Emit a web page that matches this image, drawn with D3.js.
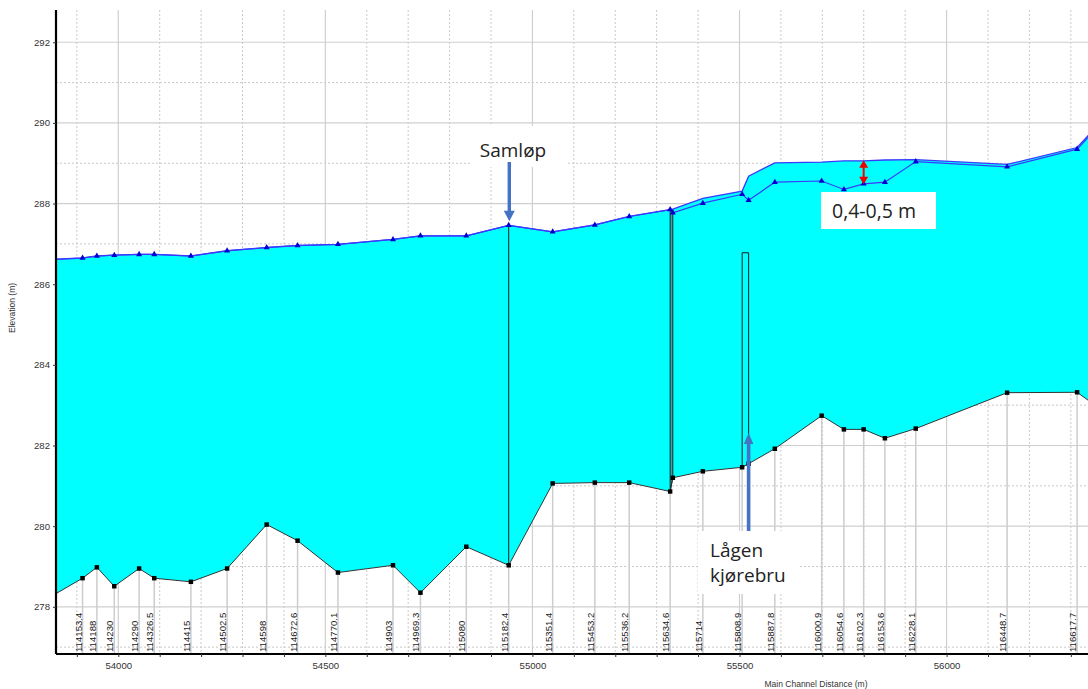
<!DOCTYPE html>
<html>
<head>
<meta charset="utf-8">
<script src="https://cdn.jsdelivr.net/npm/d3@7"></script>
<style>
  html, body { margin: 0; padding: 0; background: #ffffff; }
  svg { display: block; }
</style>
</head>
<body>
<svg id="chart" width="1088" height="689"></svg>
<script>
// River stations along the reach (blank = bridge face without its own label, or section outside the view)
const stations = ["", "114153.4", "114188", "114230", "114290", "114326.5", "114415", "114502.5",
  "114598", "114672.6", "114770.1", "114903", "114969.3", "115080", "115182.4", "115351.4",
  "115453.2", "115536.2", "115634.6", "", "115714", "115808.9", "", "115887.8", "116000.9",
  "116054.6", "116102.3", "116153.6", "116228.1", "116448.7", "116617.7", ""];

// Main channel distance (m) of each section
const distance = [53830, 53913.7, 53948.3, 53990.3, 54050.3, 54086.8, 54175.3, 54262.8,
  54358.3, 54432.9, 54530.4, 54663.3, 54729.6, 54840.3, 54942.7, 55048.9,
  55150.7, 55233.7, 55332.5, 55339, 55411.5, 55506.4, 55522, 55585.3, 55698.4,
  55752.1, 55799.8, 55851.1, 55925.6, 56146.2, 56315.2, 56372];

// Channel bed (thalweg) elevation (m)
const bedElevation = [278.21, 278.71, 278.98, 278.51, 278.95, 278.71, 278.62, 278.95,
  280.04, 279.64, 278.85, 279.03, 278.35, 279.49, 279.03, 281.06,
  281.08, 281.08, 280.86, 281.20, 281.36, 281.46, 281.55, 281.92, 282.74,
  282.40, 282.40, 282.18, 282.42, 283.31, 283.32, 282.90];

// Water surface, profile with markers (m)
const wsLower = [286.61, 286.65, 286.70, 286.72, 286.74, 286.74, 286.70, 286.83,
  286.91, 286.96, 286.99, 287.11, 287.20, 287.20, 287.46, 287.30,
  287.47, 287.68, 287.85, 287.77, 288.01, 288.23, 288.08, 288.53, 288.56,
  288.35, 288.49, 288.53, 289.04, 288.91, 289.35, 289.97];

// Water surface, higher profile (m)
const wsUpper = [286.61, 286.65, 286.70, 286.72, 286.74, 286.74, 286.70, 286.83,
  286.91, 286.96, 286.99, 287.11, 287.20, 287.20, 287.46, 287.30,
  287.47, 287.68, 287.85, 287.86, 288.13, 288.31, 288.68, 289.01, 289.03,
  289.06, 289.06, 289.08, 289.09, 288.97, 289.39, 290.02];

// Axis tick values
const xMajorTicks = [54000, 54500, 55000, 55500, 56000];
const yMajorTicks = [278, 280, 282, 284, 286, 288, 290, 292];

// Structures: junction (Samløp) and the two bridges
const junctionIndex = 14;
const bridgeA = { from: 18, to: 19 };               // narrow deck at 115634.6
const bridgeB = { from: 21, to: 22, top: 286.78 };  // Lågen kjørebru

const rows = distance.map((d, i) => ({
  station: stations[i], dist: d, bed: bedElevation[i], lo: wsLower[i], up: wsUpper[i]
}));

const svg = d3.select("#chart");
const pLeft = 56, pRight = 1088, pTop = 10, pBottom = 654;

const x = d3.scaleLinear().domain([53849.6, 56341.5]).range([pLeft, pRight]);
const y = d3.scaleLinear().domain([276.83, 292.8]).range([pBottom, pTop]);

svg.append("defs").append("clipPath").attr("id", "plotClip")
  .append("rect").attr("x", pLeft).attr("y", pTop)
  .attr("width", pRight - pLeft).attr("height", pBottom - pTop);

// ---- grid ----
const grid = svg.append("g");
const xMinor = d3.range(53900, 56400, 100).filter(v => v % 500 !== 0);
const yMinor = d3.range(277, 293, 1).filter(v => v % 2 !== 0);

grid.selectAll(".xminor").data(xMinor).join("line")
  .attr("x1", d => x(d)).attr("x2", d => x(d)).attr("y1", pTop).attr("y2", pBottom)
  .attr("stroke", "#c9c9c9").attr("stroke-width", 1).attr("stroke-dasharray", "2,2");
grid.selectAll(".yminor").data(yMinor).join("line")
  .attr("x1", pLeft).attr("x2", pRight).attr("y1", d => y(d)).attr("y2", d => y(d))
  .attr("stroke", "#c9c9c9").attr("stroke-width", 1).attr("stroke-dasharray", "2,2");
grid.selectAll(".xmajor").data(xMajorTicks).join("line")
  .attr("x1", d => x(d)).attr("x2", d => x(d)).attr("y1", pTop).attr("y2", pBottom)
  .attr("stroke", "#cfcfcf").attr("stroke-width", 1.2);
grid.selectAll(".ymajor").data(yMajorTicks).join("line")
  .attr("x1", pLeft).attr("x2", pRight).attr("y1", d => y(d)).attr("y2", d => y(d))
  .attr("stroke", "#cfcfcf").attr("stroke-width", 1.2);

const plot = svg.append("g").attr("clip-path", "url(#plotClip)");
const labelled = rows.filter(r => r.station !== "");

// cross-section lines from the bottom of the plot up to the bed
plot.selectAll(".xs").data(labelled).join("line")
  .attr("x1", d => x(d.dist)).attr("x2", d => x(d.dist))
  .attr("y1", pBottom).attr("y2", d => y(d.bed))
  .attr("stroke", "#cdcdcd").attr("stroke-width", 1.5);

// station labels
plot.selectAll(".xslabel").data(labelled).join("text")
  .attr("transform", d => `translate(${x(d.dist) - 1},${pBottom - 2}) rotate(-90)`)
  .attr("text-anchor", "start")
  .attr("font-family", "'Liberation Sans', Arial, sans-serif")
  .attr("font-size", 9.6).attr("fill", "#222")
  .text(d => d.station);

// water body between bed and the higher water surface
plot.append("path").datum(rows)
  .attr("d", d3.area().x(d => x(d.dist)).y0(d => y(d.bed)).y1(d => y(Math.max(d.up, d.lo))))
  .attr("fill", "#00ffff");

// junction line
const j = rows[junctionIndex];
plot.append("line")
  .attr("x1", x(j.dist)).attr("x2", x(j.dist))
  .attr("y1", y(j.bed)).attr("y2", y(j.lo))
  .attr("stroke", "#1a1a1a").attr("stroke-width", 1);

// bridge at 115634.6
const a0 = rows[bridgeA.from], a1 = rows[bridgeA.to];
plot.append("path")
  .attr("d", `M${x(a0.dist)},${y(a0.bed)}V${y(a0.up)}H${x(a1.dist)}V${y(a1.bed)}Z`)
  .attr("fill", "#3fa3a3").attr("stroke", "#1a1a1a").attr("stroke-width", 0.9);

// Lågen road bridge
const b0 = rows[bridgeB.from], b1 = rows[bridgeB.to];
plot.append("path")
  .attr("d", `M${x(b0.dist)},${y(b0.bed)}V${y(bridgeB.top)}H${x(b1.dist)}V${y(b1.bed)}`)
  .attr("fill", "none").attr("stroke", "#1a1a1a").attr("stroke-width", 1);

// bed line with square markers
plot.append("path").datum(rows)
  .attr("d", d3.line().x(d => x(d.dist)).y(d => y(d.bed)))
  .attr("fill", "none").attr("stroke", "#333").attr("stroke-width", 1);
plot.selectAll(".bedpt").data(rows).join("path")
  .attr("transform", d => `translate(${x(d.dist)},${y(d.bed)})`)
  .attr("d", d3.symbol(d3.symbolSquare, 20)())
  .attr("fill", "#000");

// water surface lines
plot.append("path").datum(rows)
  .attr("d", d3.line().x(d => x(d.dist)).y(d => y(d.up)))
  .attr("fill", "none").attr("stroke", "#3a3aff").attr("stroke-width", 1.3);
plot.append("path").datum(rows)
  .attr("d", d3.line().x(d => x(d.dist)).y(d => y(d.lo)))
  .attr("fill", "none").attr("stroke", "#3a3aff").attr("stroke-width", 1.2);
plot.selectAll(".wspt").data(rows).join("path")
  .attr("transform", d => `translate(${x(d.dist)},${y(d.lo)})`)
  .attr("d", d3.symbol(d3.symbolTriangle, 16)())
  .attr("fill", "#0000d0");

// ---- axes ----
const axisFont = "'Liberation Sans', Arial, sans-serif";
const xAxis = svg.append("g").attr("transform", `translate(0,${pBottom})`)
  .call(d3.axisBottom(x).tickValues(xMajorTicks).tickSize(3).tickPadding(5.5).tickFormat(d3.format("d")));
svg.append("g").attr("transform", `translate(0,${pBottom})`)
  .call(d3.axisBottom(x).tickValues(xMinor).tickSize(3).tickFormat(""))
  .call(g => g.select(".domain").remove());
xAxis.select(".domain").attr("d", `M${pLeft},0H${pRight}`).attr("stroke", "#000").attr("stroke-width", 2.2);

const yAxis = svg.append("g").attr("transform", `translate(${pLeft},0)`)
  .call(d3.axisLeft(y).tickValues(yMajorTicks).tickSize(3).tickPadding(3));
yAxis.select(".domain").attr("d", `M0,${pTop}V${pBottom}`).attr("stroke", "#000").attr("stroke-width", 2.2);

svg.selectAll(".tick line").attr("stroke", "#333");
svg.selectAll(".tick text").attr("font-family", axisFont).attr("font-size", 9.6).attr("fill", "#333");

svg.append("text")
  .attr("transform", "translate(15,308) rotate(-90)")
  .attr("text-anchor", "middle").attr("font-family", axisFont).attr("font-size", 8.5).attr("fill", "#333")
  .text("Elevation (m)");
svg.append("text")
  .attr("x", 816).attr("y", 687)
  .attr("text-anchor", "middle").attr("font-family", axisFont).attr("font-size", 8.5).attr("fill", "#333")
  .text("Main Channel Distance (m)");

// ---- annotations ----
const noteFont = "'Open Sans', 'Noto Sans', sans-serif";
const ann = svg.append("g");

function arrow(g, cx, yFrom, yTip, color, shaft, headW, headL) {
  const dir = yTip > yFrom ? 1 : -1;
  const base = yTip - dir * headL;
  g.append("path")
    .attr("d", `M${cx - shaft / 2},${yFrom}V${base}H${cx - headW / 2}L${cx},${yTip}L${cx + headW / 2},${base}H${cx + shaft / 2}V${yFrom}Z`)
    .attr("fill", color);
}

// Samløp
ann.append("rect").attr("x", 470).attr("y", 126).attr("width", 97).attr("height", 41).attr("fill", "#fff");
ann.append("text").attr("x", 513).attr("y", 157).attr("text-anchor", "middle")
  .attr("font-family", noteFont).attr("font-size", 19).attr("fill", "#222").text("Samløp");
arrow(ann, x(j.dist) + 0.6, 162, y(j.lo) - 4, "#4472c4", 3.4, 11, 10.5);

// difference between the two water surfaces
const dIdx = 26;
const dr = rows[dIdx];
ann.append("rect").attr("x", 821).attr("y", 192).attr("width", 115).attr("height", 37).attr("fill", "#fff");
ann.append("text").attr("x", 832).attr("y", 217.5)
  .attr("font-family", noteFont).attr("font-size", 19.5).attr("fill", "#222").text("0,4-0,5 m");
{
  const cx = x(dr.dist), y0 = y(dr.up) - 0.5, y1 = y(dr.lo) + 0.5, mid = (y0 + y1) / 2;
  arrow(ann, cx, mid, y0, "#ee0000", 2, 9, 7.5);
  arrow(ann, cx, mid, y1, "#ee0000", 2, 9, 7.5);
}

// Lågen kjørebru
ann.append("rect").attr("x", 698).attr("y", 531).attr("width", 102).attr("height", 63).attr("fill", "#fff");
ann.append("text").attr("x", 710).attr("y", 556.5)
  .attr("font-family", noteFont).attr("font-size", 19).attr("fill", "#222").text("Lågen");
ann.append("text").attr("x", 710).attr("y", 581.5)
  .attr("font-family", noteFont).attr("font-size", 19).attr("fill", "#222").text("kjørebru");
arrow(ann, x(b1.dist), 531, 433, "#4472c4", 3.6, 9.5, 11);
</script>
</body>
</html>
